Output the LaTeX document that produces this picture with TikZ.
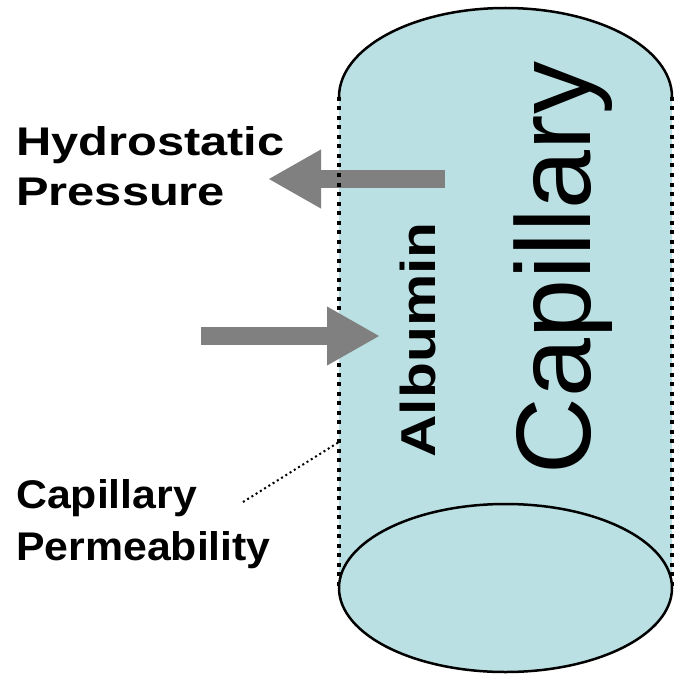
\documentclass[tikz,border=0pt]{standalone}
\usepackage{fontspec}
\setmainfont{Liberation Sans}
\usetikzlibrary{arrows.meta}
\definecolor{capblue}{RGB}{186,224,227}
\definecolor{arrowgray}{RGB}{128,128,128}

\begin{document}
\begin{tikzpicture}[x=1pt,y=-1pt,
  wall/.style={line width=4pt,dash pattern=on 4pt off 5.5pt},
  rim/.style={line width=2.5pt},
  push/.style={arrowgray,line width=18pt,-{Triangle[length=53pt,width=55pt]}},
  leader/.style={line width=2pt,dash pattern=on 2pt off 3pt},
  label/.style={inner sep=0pt,align=left}]
\useasboundingbox (0,0) rectangle (685,687);

% capillary body and top
\fill[capblue] (339,588) -- (339,97) arc[start angle=180,end angle=360,x radius=166.5,y radius=89] -- (672,588) -- cycle;
\draw[rim] (339,97) arc[start angle=180,end angle=360,x radius=166.5,y radius=89];

% outward arrow
\coordinate (hpstart) at (445,179);
\coordinate (hpend) at (268,179);
\draw[push] (hpstart) -- (hpend);

% walls
\draw[wall] (339,97) -- (339,588);
\draw[wall] (672,97) -- (672,588);

% bottom
\draw[rim,fill=capblue] (505.5,588) ellipse[x radius=166.5,y radius=84];

% inward arrow
\coordinate (alstart) at (201,336);
\coordinate (alend) at (380,336);
\draw[push] (alstart) -- (alend);

% labels
\node[label,anchor=north west,xscale=1.22,font=\bfseries\fontsize{40}{50}\selectfont] (hydro) at (16,126) {Hydrostatic\\Pressure};
\node[label,anchor=north west,xscale=1.07,font=\bfseries\fontsize{40}{52}\selectfont] (perm) at (16,479) {Capillary\\Permeability};
\node[rotate=90,anchor=base,font=\bfseries\fontsize{49}{49}\selectfont] (albumin) at (435,340) {\scalebox{1.2}[1]{Albumin}};
\node[rotate=90,anchor=base,font=\fontsize{106}{106}\selectfont] (capillary) at (590,268) {Capillary};

% pore leader
\coordinate (leadstart) at (243,502);
\coordinate (pore) at (339,442);
\draw[leader] (leadstart) -- (pore);
\end{tikzpicture}
\end{document}
